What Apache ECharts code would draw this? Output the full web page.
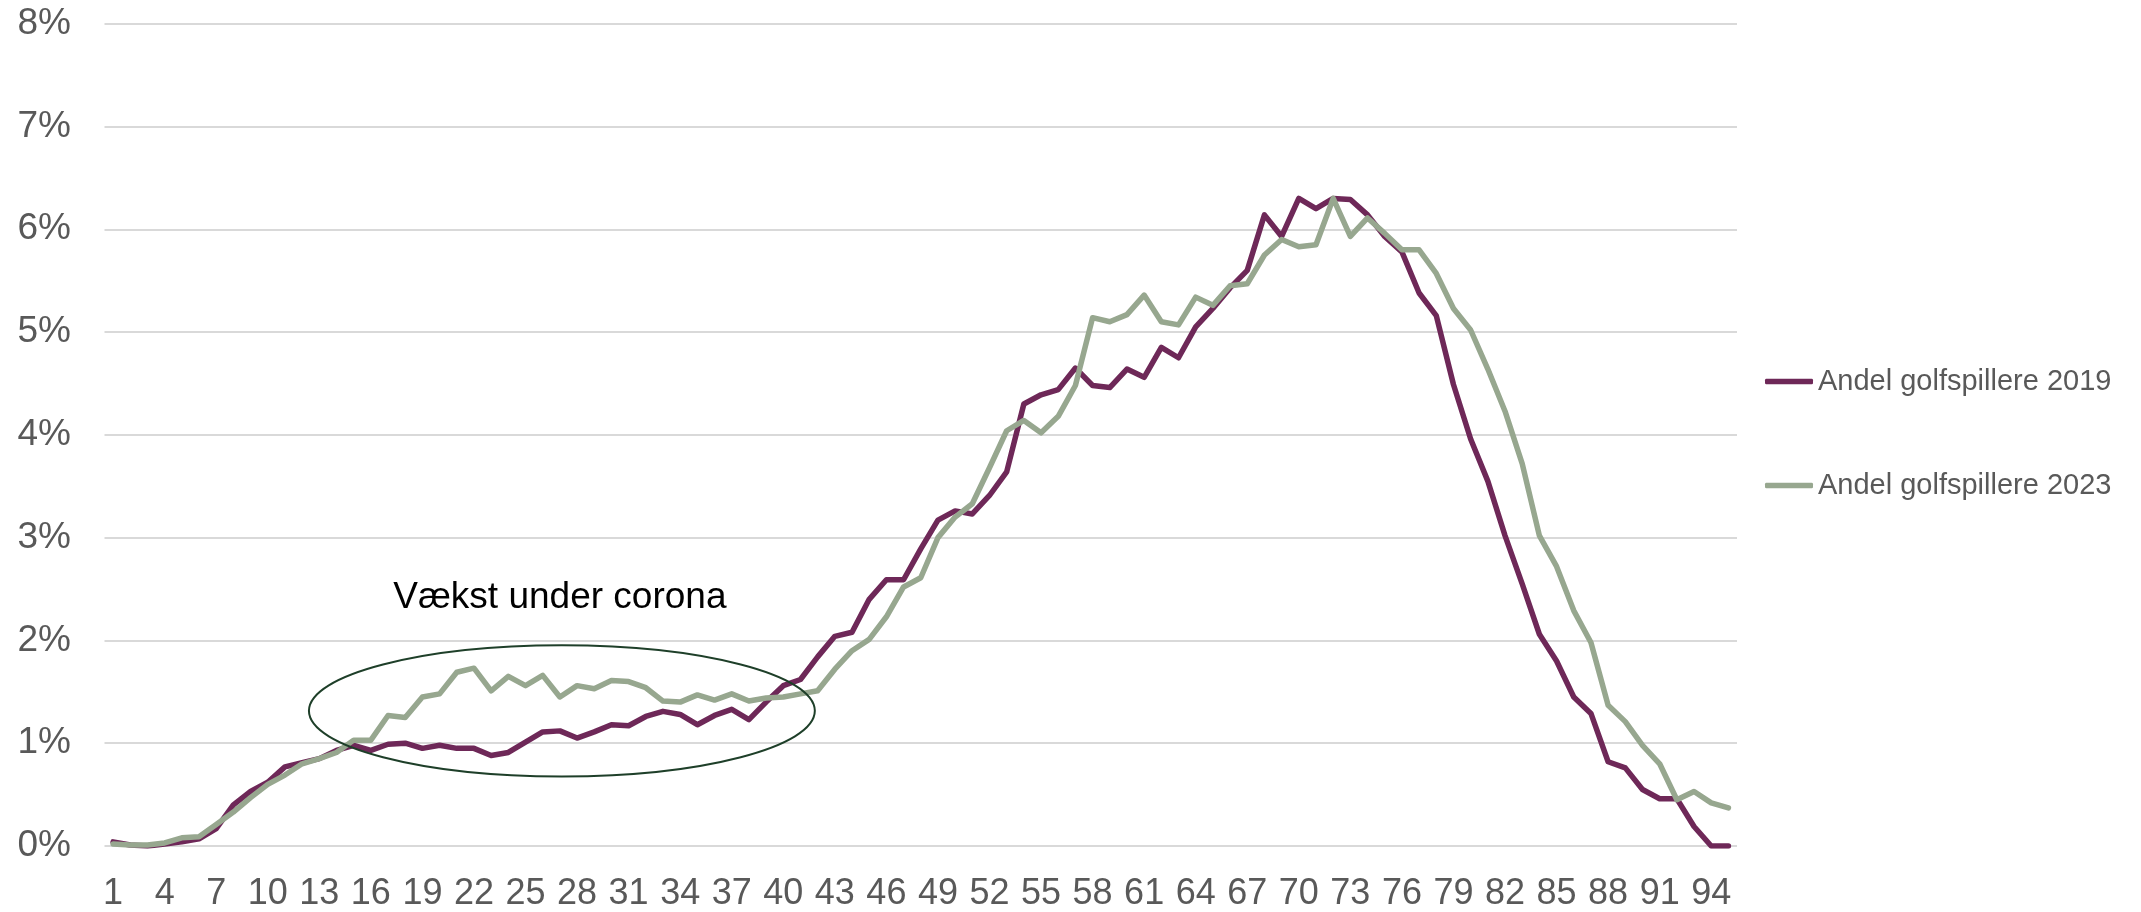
<!DOCTYPE html>
<html>
<head>
<meta charset="utf-8">
<script src="https://cdn.jsdelivr.net/npm/echarts@6/dist/echarts.min.js"></script>
<style>
html,body{margin:0;padding:0;background:#fff;}
#chart{width:2141px;height:912px;}
</style>
</head>
<body>
<div id="chart"></div>
<script>
const categories = ['1','2','3','4','5','6','7','8','9','10','11','12','13','14','15','16','17','18','19','20',
  '21','22','23','24','25','26','27','28','29','30','31','32','33','34','35','36','37','38','39','40',
  '41','42','43','44','45','46','47','48','49','50','51','52','53','54','55','56','57','58','59','60',
  '61','62','63','64','65','66','67','68','69','70','71','72','73','74','75','76','77','78','79','80',
  '81','82','83','84','85','86','87','88','89','90','91','92','93','94','95'];

const andel2019 = [0.04,0.01,0.00,0.02,0.04,0.07,0.17,0.40,0.53,0.62,
  0.77,0.81,0.85,0.93,0.98,0.93,0.99,1.00,0.95,0.98,
  0.95,0.95,0.88,0.91,1.01,1.11,1.12,1.05,1.11,1.18,
  1.17,1.26,1.31,1.28,1.18,1.27,1.33,1.23,1.40,1.56,
  1.62,1.84,2.04,2.08,2.40,2.59,2.59,2.89,3.17,3.26,
  3.23,3.41,3.64,4.30,4.39,4.44,4.65,4.48,4.46,4.64,
  4.56,4.85,4.75,5.05,5.23,5.43,5.60,6.14,5.93,6.30,
  6.20,6.30,6.29,6.14,5.93,5.78,5.38,5.16,4.49,3.96,
  3.55,3.02,2.55,2.06,1.80,1.45,1.29,0.82,0.76,0.55,
  0.46,0.46,0.19,0.00,0.00];

const andel2023 = [0.02,0.01,0.01,0.03,0.08,0.09,0.21,0.33,0.47,0.60,
  0.69,0.80,0.85,0.91,1.03,1.03,1.27,1.25,1.45,1.48,
  1.69,1.73,1.51,1.65,1.56,1.66,1.45,1.56,1.53,1.61,
  1.60,1.54,1.41,1.40,1.47,1.42,1.48,1.41,1.44,1.45,
  1.48,1.51,1.72,1.90,2.01,2.23,2.52,2.61,3.00,3.20,
  3.33,3.68,4.04,4.14,4.02,4.18,4.48,5.14,5.10,5.17,
  5.36,5.10,5.07,5.34,5.26,5.45,5.47,5.75,5.90,5.83,
  5.85,6.30,5.93,6.11,5.96,5.80,5.80,5.57,5.23,5.02,
  4.64,4.23,3.72,3.02,2.72,2.29,1.98,1.37,1.21,0.98,
  0.80,0.45,0.53,0.42,0.37];

const seriesNames = ['Andel golfspillere 2019', 'Andel golfspillere 2023'];
const seriesColors = ['#6E2858', '#97A78F'];
const annotationText = 'Vækst under corona';
// annotation anchors in data units: category, value (%)
const annotationTextAt = ['27', 2.41];
const ellipseCenter = ['27', 1.315];
const ellipseHalfWidthCats = 14.72;
const ellipseHalfHeightPct = 0.638;

const FONT = '"Liberation Sans", Arial, sans-serif';
const chart = echarts.init(document.getElementById('chart'), null, {renderer: 'canvas'});

chart.setOption({
  animation: false,
  backgroundColor: '#ffffff',
  grid: {left: 104.5, right: 404, top: 23.7, bottom: 61, containLabel: false},
  legend: {
    orient: 'vertical',
    left: 1760,
    top: 362,
    itemWidth: 48,
    itemHeight: 5.5,
    itemGap: 75,
    textStyle: {fontFamily: FONT, fontSize: 29, color: '#595959'},
    data: [
      {name: seriesNames[0], icon: 'roundRect'},
      {name: seriesNames[1], icon: 'roundRect'}
    ]
  },
  xAxis: {
    type: 'category',
    data: categories,
    boundaryGap: true,
    axisLine: {show: false},
    axisTick: {show: false},
    axisLabel: {interval: 2, margin: 30, fontFamily: FONT, fontSize: 36, color: '#595959'},
    splitLine: {show: false}
  },
  yAxis: {
    type: 'value',
    min: 0, max: 8, interval: 1,
    axisLine: {show: false},
    axisTick: {show: false},
    axisLabel: {formatter: '{value}%', margin: 33.5, fontFamily: FONT, fontSize: 37, color: '#595959'},
    splitLine: {show: true, lineStyle: {color: '#D9D9D9', width: 2}}
  },
  series: [
    {
      name: seriesNames[0], type: 'line', data: andel2019,
      symbol: 'none', showSymbol: false,
      lineStyle: {color: seriesColors[0], width: 5.5, cap: 'round', join: 'round'},
      itemStyle: {color: seriesColors[0]}, z: 2
    },
    {
      name: seriesNames[1], type: 'line', data: andel2023,
      symbol: 'none', showSymbol: false,
      lineStyle: {color: seriesColors[1], width: 5.5, cap: 'round', join: 'round'},
      itemStyle: {color: seriesColors[1]}, z: 3
    }
  ]
});

function px(cat, val) {
  return chart.convertToPixel({xAxisIndex: 0, yAxisIndex: 0}, [cat, val]);
}
const pFirst = px(categories[0], 0);
const pLast = px(categories[categories.length - 1], 0);
const step = (pLast[0] - pFirst[0]) / (categories.length - 1);
const c = px(ellipseCenter[0], ellipseCenter[1]);
const cTop = px(ellipseCenter[0], ellipseCenter[1] + ellipseHalfHeightPct);
const t = px(annotationTextAt[0], annotationTextAt[1]);

chart.setOption({
  graphic: [
    {
      type: 'ellipse', z: 10,
      shape: {cx: c[0] + 2, cy: c[1], rx: ellipseHalfWidthCats * step, ry: c[1] - cTop[1]},
      style: {fill: 'none', stroke: '#1E3F29', lineWidth: 2}
    },
    {
      type: 'text', z: 10,
      x: t[0], y: t[1],
      style: {text: annotationText, font: '37px ' + FONT, fill: '#000000',
        textAlign: 'center', textVerticalAlign: 'middle', verticalAlign: 'middle'}
    }
  ]
});
</script>
</body>
</html>
